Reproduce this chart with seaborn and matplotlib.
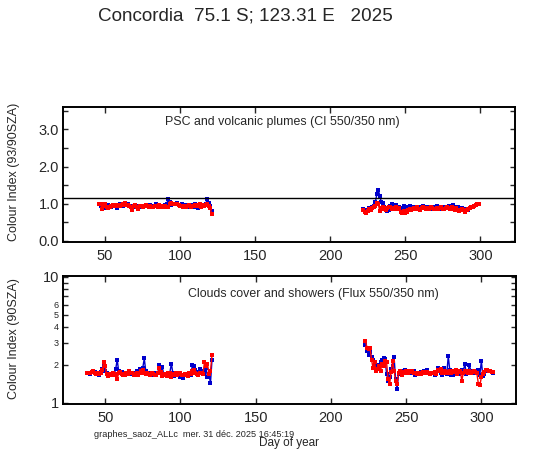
import numpy as np
import pandas as pd
import seaborn as sns
import matplotlib
matplotlib.use("Agg")
import matplotlib.pyplot as plt
from matplotlib.ticker import FixedLocator, NullLocator, MultipleLocator

# ---- data ----
# top panel: colour index 93/90 SZA
ci_start_1 = 46
ci_blue_1 = [0.98, 0.93, 0.90, 0.95, 0.88, 0.92, 0.96, 0.94, 0.90, 0.93,
             0.96, 0.95, 0.89, 0.96, 0.98, 0.97, 0.95, 0.98, 0.96, 0.99,
             0.94, 0.93, 0.90, 0.92, 0.95, 0.93, 0.89, 0.94, 0.91, 0.95,
             0.93, 0.97, 0.95, 0.92, 0.96, 0.94, 0.90, 0.93, 0.98, 0.92,
             0.95, 0.91, 0.94, 0.93, 0.96, 0.98, 1.13, 1.05, 0.96, 0.99,
             1.00, 0.98, 1.02, 0.97, 0.96, 0.98, 0.94, 0.93, 0.96, 0.90,
             0.94, 0.93, 0.96, 0.92, 0.98, 0.94, 0.88, 0.95, 0.90, 0.96,
             0.93, 0.98, 1.13, 1.02, 0.95, 0.80]
ci_red_1 = [0.98, 1.00, 0.86, 0.93, 0.99, 0.90, 0.88, 0.92, 0.94, 0.96,
            0.93, 0.95, 0.97, 0.96, 0.94, 0.97, 0.99, 1.01, 0.96, 0.97,
            0.93, 0.92, 0.84, 0.94, 0.96, 0.91, 0.87, 0.93, 0.95, 0.92,
            0.94, 0.96, 0.93, 0.91, 0.95, 0.92, 0.90, 0.95, 0.93, 0.91,
            0.96, 0.93, 0.92, 0.90, 0.93, 0.90, 0.91, 1.00, 1.01, 0.99,
            0.98, 1.00, 0.99, 0.97, 0.94, 0.95, 0.92, 0.94, 0.90, 0.93,
            0.96, 0.92, 0.95, 0.94, 0.96, 0.93, 0.97, 0.99, 0.92, 0.96,
            0.93, 0.97, 0.98, 0.94, 0.88, 0.72]
ci_start_2 = 222
ci_blue_2 = [0.85, 0.82, 0.80, 0.84, 0.88, 0.86, 0.92, 0.95, 1.05, 1.25,
             1.37, 1.20, 1.05, 1.02, 0.90, 0.85, 0.80, 0.82, 0.95, 0.99,
             0.93, 0.90, 0.97, 0.88, 0.92, 0.85, 0.89, 0.93, 0.90, 0.87,
             0.92, 0.94, 0.88, 0.91, 0.89, 0.92, 0.86, 0.90, 0.88, 0.92,
             0.95, 0.90, 0.87, 0.91, 0.89, 0.86, 0.92, 0.90, 0.88, 0.93,
             0.90, 0.85, 0.91, 0.89, 0.92, 0.88, 0.90, 0.93, 0.91, 0.89,
             0.96, 0.90, 0.87, 0.92, 0.89, 0.84, 0.88, 0.85, 0.80, 0.86,
             0.83, 0.88, 0.90, 0.92, 0.95, 0.97, 0.99, 1.00]
ci_red_2 = [0.82, 0.78, 0.75, 0.80, 0.86, 0.84, 0.88, 0.90, 0.95, 1.02,
            0.98, 0.80, 0.88, 0.92, 0.86, 0.84, 0.88, 0.92, 0.90, 0.86,
            0.88, 0.87, 0.90, 0.85, 0.88, 0.78, 0.74, 0.80, 0.76, 0.78,
            0.84, 0.86, 0.82, 0.85, 0.88, 0.86, 0.90, 0.87, 0.84, 0.88,
            0.91, 0.88, 0.86, 0.89, 0.87, 0.90, 0.88, 0.85, 0.87, 0.89,
            0.86, 0.88, 0.91, 0.87, 0.85, 0.89, 0.92, 0.88, 0.86, 0.90,
            0.87, 0.84, 0.88, 0.82, 0.80, 0.84, 0.86, 0.82, 0.78, 0.84,
            0.86, 0.88, 0.90, 0.92, 0.94, 0.96, 0.98, 1.00]
ci_ref_line = 1.15

# bottom panel: flux ratio 550/350 at 90 SZA
fx_start_1 = 38
fx_blue_1 = [1.74, 1.72, 1.70, 1.75, 1.80, 1.76, 1.72, 1.70, 1.68, 1.75,
             1.85, 1.98, 1.80, 1.72, 1.68, 1.70, 1.66, 1.72, 1.70, 1.85,
             2.20, 1.78, 1.72, 1.75, 1.70, 1.66, 1.70, 1.72, 1.78, 1.74,
             1.70, 1.68, 1.72, 1.80, 1.74, 1.85, 1.72, 1.90, 2.25, 1.78,
             1.70, 1.74, 1.72, 1.68, 1.70, 1.73, 1.70, 1.72, 2.00, 1.85,
             1.92, 1.66, 1.70, 1.62, 1.70, 1.74, 2.05, 1.72, 1.64, 1.70,
             1.66, 1.72, 1.60, 1.68, 1.58, 1.66, 1.70, 1.62, 1.72, 1.68,
             2.00, 1.95, 1.82, 1.76, 1.70, 1.85, 1.78, 1.80, 1.72, 1.90,
             1.60, 1.66, 1.45, 2.20]
fx_red_1 = [1.73, 1.74, 1.72, 1.76, 1.78, 1.73, 1.70, 1.72, 1.70, 1.74,
            1.82, 2.10, 1.95, 1.70, 1.62, 1.68, 1.70, 1.72, 1.68, 1.70,
            1.55, 1.72, 1.76, 1.70, 1.66, 1.68, 1.72, 1.70, 1.80, 1.74,
            1.72, 1.66, 1.70, 1.74, 1.68, 1.72, 1.78, 1.82, 1.74, 1.70,
            1.72, 1.70, 1.68, 1.72, 1.70, 1.68, 1.66, 1.72, 1.90, 1.75,
            1.64, 1.70, 1.66, 1.62, 1.72, 1.74, 1.60, 1.70, 1.66, 1.72,
            1.68, 1.70, 1.72, 1.65, 1.66, 1.70, 1.68, 1.62, 1.74, 1.70,
            1.78, 1.82, 1.74, 1.70, 1.66, 1.72, 1.74, 1.70, 2.10, 1.95,
            2.05, 1.70, 1.80, 2.38]
fx_start_2 = 223
fx_blue_2 = [2.90, 2.60, 2.40, 2.55, 2.30, 2.20, 2.05, 1.95, 1.90, 2.00,
             2.10, 2.20, 2.25, 2.22, 1.70, 1.50, 1.60, 1.85, 1.95, 2.30,
             1.55, 1.30, 1.70, 1.72, 1.78, 1.74, 1.82, 1.72, 1.76, 1.74,
             1.78, 1.72, 1.80, 1.66, 1.72, 1.70, 1.74, 1.76, 1.72, 1.78,
             1.80, 1.82, 1.74, 1.70, 1.72, 1.74, 1.68, 1.72, 1.90, 1.80,
             1.74, 1.66, 1.88, 1.78, 1.70, 2.35, 1.82, 1.66, 1.68, 1.72,
             1.80, 1.74, 1.70, 1.76, 1.82, 1.78, 2.05, 1.70, 1.74, 2.00,
             1.80, 1.76, 1.74, 1.78, 1.72, 1.82, 1.68, 2.15, 1.62, 1.70,
             1.80, 1.84, 1.80, 1.78, 1.76, 1.74]
fx_red_2 = [3.10, 2.75, 2.70, 2.75, 2.20, 1.90, 2.10, 1.80, 1.85, 1.95,
            1.80, 2.05, 1.95, 2.15, 2.10, 1.55, 1.40, 1.75, 2.15, 1.80,
            1.50, 1.40, 1.72, 1.78, 1.66, 1.76, 1.72, 1.80, 1.74, 1.78,
            1.76, 1.80, 1.74, 1.72, 1.70, 1.72, 1.74, 1.70, 1.76, 1.72,
            1.74, 1.76, 1.72, 1.70, 1.74, 1.72, 1.76, 1.70, 1.82, 1.78,
            1.86, 1.74, 1.72, 1.80, 1.76, 1.72, 1.78, 1.74, 1.80, 1.76,
            1.84, 1.70, 1.76, 1.80, 1.50, 1.74, 1.78, 1.76, 1.72, 1.80,
            1.74, 1.76, 1.78, 1.75, 1.72, 1.42, 1.38, 1.60, 1.70, 1.76,
            1.82, 1.84, 1.80, 1.78, 1.76, 1.75]

title = "Concordia  75.1 S; 123.31 E   2025"
footer = "graphes_saoz_ALLc  mer. 31 déc. 2025 16:45:19"
BLUE = "#0000cc"
RED = "#ff0000"


def segment(start, values):
    return pd.DataFrame({"day": np.arange(start, start + len(values)), "val": values})


def draw_series(ax, start, values, color):
    df = segment(start, values)
    sns.lineplot(data=df, x="day", y="val", ax=ax, color=color, lw=1.0,
                 marker="s", markersize=3.0, markeredgewidth=0,
                 estimator=None, sort=False, legend=False)


sns.set_style("ticks")
plt.rcParams["font.family"] = ["Liberation Sans", "DejaVu Sans"]

fig = plt.figure(figsize=(5.47, 4.55), dpi=100)
ax1 = fig.add_axes([0.1152, 0.4681, 0.8263, 0.2967])
ax2 = fig.add_axes([0.1152, 0.1114, 0.8281, 0.2827])

# top panel
for s, b, r in [(ci_start_1, ci_blue_1, ci_red_1), (ci_start_2, ci_blue_2, ci_red_2)]:
    draw_series(ax1, s, b, BLUE)
    draw_series(ax1, s, r, RED)
ax1.axhline(ci_ref_line, color="black", lw=1.0)
ax1.set_ylim(-0.03, 3.6)
ax1.yaxis.set_major_locator(FixedLocator([0, 1, 2, 3]))
ax1.yaxis.set_minor_locator(MultipleLocator(0.5))
ax1.set_yticklabels(["0.0", "1.0", "2.0", "3.0"])
ax1.text(0.485, 0.889, "PSC and volcanic plumes (CI 550/350 nm)",
         transform=ax1.transAxes, ha="center", va="center", fontsize=8.9)

# bottom panel
for s, b, r in [(fx_start_1, fx_blue_1, fx_red_1), (fx_start_2, fx_blue_2, fx_red_2)]:
    draw_series(ax2, s, b, BLUE)
    draw_series(ax2, s, r, RED)
ax2.set_yscale("log")
ax2.set_ylim(0.975, 10.2)
ax2.yaxis.set_major_locator(FixedLocator([1, 2, 3, 4, 5, 6, 7, 8, 9, 10]))
ax2.yaxis.set_minor_locator(NullLocator())
ax2.set_yticklabels(["1", "2", "3", "4", "5", "6", "", "", "", "10"])
for lab in ax2.get_yticklabels():
    if lab.get_text() in ("1", "10"):
        lab.set_fontsize(10.5)
    else:
        lab.set_fontsize(6.5)
ax2.text(0.552, 0.858, "Clouds cover and showers (Flux 550/350 nm)",
         transform=ax2.transAxes, ha="center", va="center", fontsize=8.9)

for ax in (ax1, ax2):
    ax.set_xlim(22, 323)
    ax.xaxis.set_major_locator(FixedLocator([50, 100, 150, 200, 250, 300]))
    ax.set_xlabel("")
    ax.set_ylabel("")
    ax.tick_params(axis="x", which="both", direction="in", top=True, bottom=True,
                   length=4.5, width=1.0, labelsize=10.5, pad=5)
    ax.tick_params(axis="y", which="both", direction="in", left=True, right=True,
                   length=3.5, width=1.0, pad=3)
    for sp in ax.spines.values():
        sp.set_linewidth(1.4)
        sp.set_color("black")
ax1.tick_params(axis="y", which="major", labelsize=10.5)

fig.text(0.449, 0.964, title, ha="center", va="center", fontsize=13.6)
fig.text(0.026, 0.622, "Colour Index (93/90SZA)", rotation=90,
         ha="center", va="center", fontsize=9)
fig.text(0.026, 0.255, "Colour Index (90SZA)", rotation=90,
         ha="center", va="center", fontsize=9)
fig.text(0.172, 0.046, footer, ha="left", va="center", fontsize=6.6)
fig.text(0.529, 0.027, "Day of year", ha="center", va="center", fontsize=8.5)

fig.savefig("out.png", dpi=100)
